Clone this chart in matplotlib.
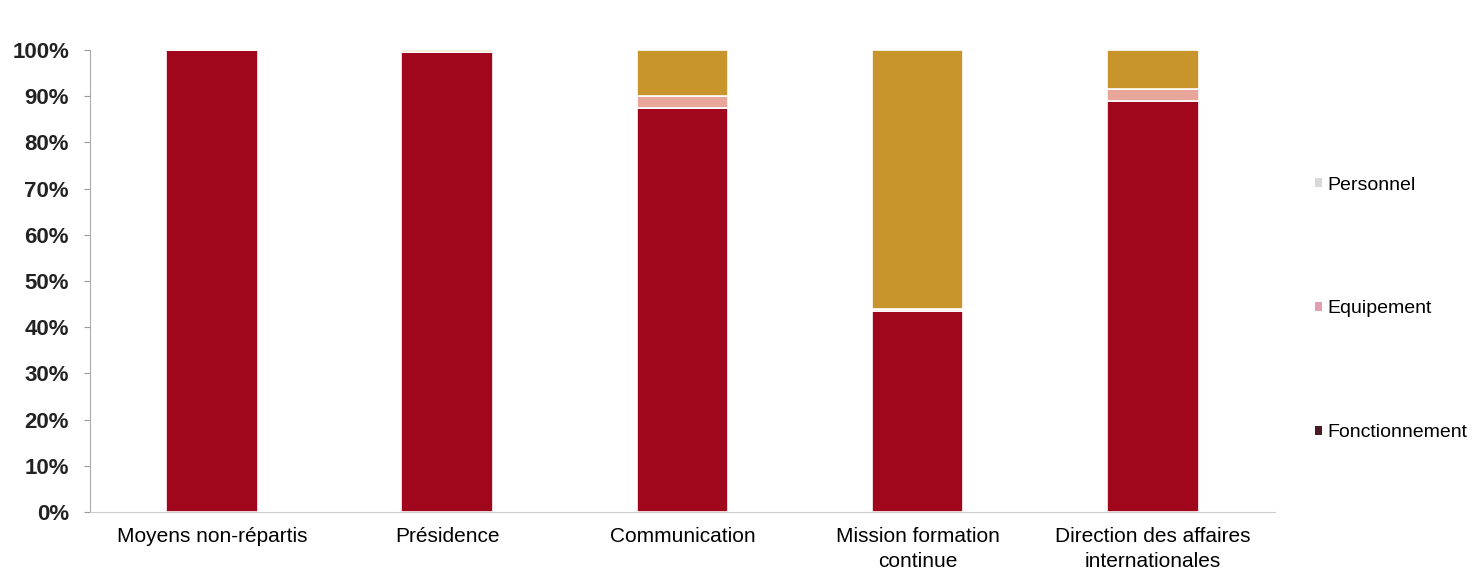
import numpy as np
import matplotlib.pyplot as plt
from matplotlib.patches import Patch
from matplotlib.ticker import PercentFormatter

plt.rcParams['font.family'] = ['Liberation Sans', 'DejaVu Sans']

# Budget split per service (share of total, %)
categories = ['Moyens non-répartis', 'Présidence', 'Communication',
              'Mission formation\ncontinue', 'Direction des affaires\ninternationales']
fonctionnement = [100.0, 99.5, 87.5, 43.5, 89.0]
equipement = [0.0, 0.0, 2.5, 0.5, 2.5]
personnel = [0.0, 0.5, 10.0, 56.0, 8.5]

colors = {'Fonctionnement': '#a0061c', 'Equipement': '#e8a59a', 'Personnel': '#c8952c'}
legend_colors = {'Personnel': '#d8d8d8', 'Equipement': '#e0a0b0', 'Fonctionnement': '#4a1a24'}

fig = plt.figure(figsize=(14.74, 5.70), dpi=100)
ax = fig.add_axes([0.061, 0.102, 0.804, 0.810])

x = np.arange(len(categories))
w = 0.39
bottom = np.zeros(len(categories))
for name, vals in [('Fonctionnement', fonctionnement), ('Equipement', equipement),
                   ('Personnel', personnel)]:
    vals = np.array(vals)
    ax.bar(x, vals, w, bottom=bottom, color=colors[name], edgecolor='white', linewidth=1.2)
    bottom += vals

ax.set_xlim(-0.52, len(categories) - 0.48)
ax.set_ylim(0, 100)
ax.set_yticks(np.arange(0, 101, 10))
ax.yaxis.set_major_formatter(PercentFormatter(decimals=0))
ax.set_xticks(x)
ax.set_xticklabels(categories, fontsize=15, linespacing=1.4)
for lbl in ax.get_yticklabels():
    lbl.set_fontweight('bold')
    lbl.set_fontsize(16)
    lbl.set_color('#222222')
ax.tick_params(axis='y', length=4, color='#999999', pad=11)
ax.tick_params(axis='x', length=0, pad=11)
for s in ['top', 'right']:
    ax.spines[s].set_visible(False)
ax.spines['left'].set_color('#aaaaaa')
ax.spines['bottom'].set_color('#cccccc')

handles = [Patch(facecolor=legend_colors[n]) for n in ['Personnel', 'Equipement', 'Fonctionnement']]
fig.legend(handles, ['Personnel', 'Equipement', 'Fonctionnement'],
           loc='upper left', bbox_to_anchor=(0.88, 0.721), frameon=False,
           fontsize=14, handlelength=0.4, handleheight=0.4, handletextpad=0.25,
           labelspacing=5.5)

fig.savefig('out.png', dpi=100)
